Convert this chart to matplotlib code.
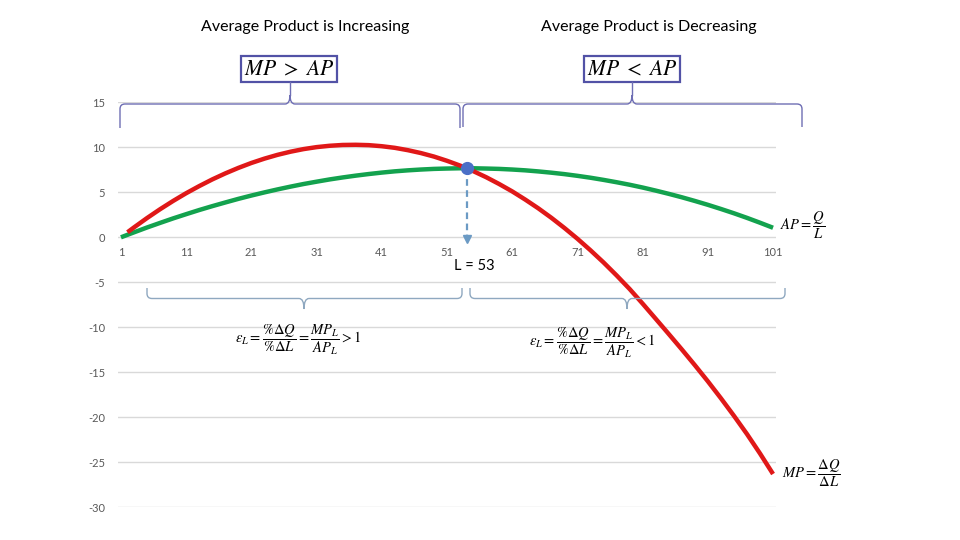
import matplotlib
matplotlib.use("Agg")
import matplotlib.pyplot as plt
from matplotlib.path import Path
from matplotlib.patches import PathPatch, Rectangle

plt.rcParams['mathtext.fontset'] = 'stix'

# ---------------- data ----------------
# category index (axis labels 1..101 correspond to L = 0..100)
ap_cat = list(range(1, 102, 2))
ap_val = [0.00, 0.55, 1.09, 1.60, 2.10, 2.57, 3.03, 3.46, 3.87, 4.27, 4.64, 4.99, 5.32, 5.63,
          5.92, 6.18, 6.43, 6.65, 6.85, 7.03, 7.19, 7.33, 7.44, 7.53, 7.60, 7.64, 7.67, 7.67,
          7.64, 7.60, 7.53, 7.44, 7.32, 7.18, 7.02, 6.83, 6.62, 6.38, 6.12, 5.84, 5.53, 5.19,
          4.83, 4.45, 4.04, 3.61, 3.15, 2.67, 2.16, 1.62, 1.06]
mp_cat = [2] + list(range(3, 102, 2))
mp_val = [0.56, 1.10, 2.14, 3.12, 4.04, 4.90, 5.69, 6.43, 7.10, 7.71, 8.26, 8.74, 9.16, 9.51,
          9.80, 10.02, 10.17, 10.26, 10.28, 10.24, 10.12, 9.94, 9.68, 9.36, 8.97, 8.50, 7.97,
          7.36, 6.68, 5.92, 5.10, 4.19, 3.22, 2.17, 1.04, -0.16, -1.44, -2.79, -4.23, -5.74,
          -7.37, -9.05, -10.74, -12.45, -14.20, -16.00, -17.88, -19.83, -21.86, -24.02, -26.30]
cross_cat = 54          # L = 53
cross_val = 7.67
x_ticks = [1, 11, 21, 31, 41, 51, 61, 71, 81, 91, 101]
y_ticks = [15, 10, 5, 0, -5, -10, -15, -20, -25, -30]

W, H = 960, 540
fig = plt.figure(figsize=(9.6, 5.4), dpi=100)
ax = fig.add_axes([117.7 / W, 1 - 507.3 / H, 658.6 / W, 405 / H])
ax.set_xlim(0.5, 101.5)
ax.set_ylim(-30, 15)

grid_c = '#D9D9D9'
lab_c = '#595959'
for v in y_ticks:
    ax.axhline(v, color=grid_c, lw=1.0, zorder=0)

ax.plot(ap_cat, ap_val, color='#13A24E', lw=3.2, solid_capstyle='butt', solid_joinstyle='round', zorder=3)
ax.plot(mp_cat, mp_val, color='#E01818', lw=3.2, solid_capstyle='butt', solid_joinstyle='round', zorder=4)

# dashed drop line with arrow head
ax.plot([cross_cat, cross_cat], [cross_val, 0.2], ls=(0, (3, 2)), color='#6B9AC4', lw=1.6, zorder=5)
ax.plot([cross_cat], [-0.15], marker='v', color='#6B9AC4', ms=6, zorder=5)
ax.plot([cross_cat], [cross_val], marker='o', color='#4A6FC7', ms=8.5, zorder=6)
ax.text(55.2, -3.2, 'L = 53', ha='center', va='center', fontsize=10.5, family='Lato', color='black')

for s in ax.spines.values():
    s.set_visible(False)
ax.spines['bottom'].set_position(('data', 0))
ax.set_xticks(x_ticks)
ax.set_xticklabels([str(t) for t in x_ticks])
ax.set_yticks(y_ticks)
ax.set_yticklabels([str(t) for t in y_ticks])
ax.tick_params(axis='both', length=0, labelsize=8, labelcolor=lab_c)
ax.tick_params(axis='x', pad=7)
ax.tick_params(axis='y', pad=9)
for t in ax.get_xticklabels() + ax.get_yticklabels():
    t.set_family('Lato')


def fp(x, y):
    return (x / W, 1 - y / H)


def brace(x0, x1, y, yend, xt, ytip, color, r=5, rt=5):
    s = 1 if yend > y else -1
    verts = [fp(x0, yend), fp(x0, y + s * r), fp(x0, y), fp(x0 + r, y),
             fp(xt - rt, y), fp(xt, y), fp(xt, ytip), fp(xt, y), fp(xt + rt, y),
             fp(x1 - r, y), fp(x1, y), fp(x1, y + s * r), fp(x1, yend)]
    codes = [Path.MOVETO, Path.LINETO, Path.CURVE3, Path.CURVE3,
             Path.LINETO, Path.CURVE3, Path.CURVE3, Path.CURVE3, Path.CURVE3,
             Path.LINETO, Path.CURVE3, Path.CURVE3, Path.LINETO]
    fig.add_artist(PathPatch(Path(verts, codes), fill=False, edgecolor=color, lw=1.0,
                             transform=fig.transFigure))


top_c = '#6E6EB4'
brace(120, 460, 104, 128, 290, 95, top_c)
brace(463, 802, 104, 127, 632, 95, top_c)
for xt in (290, 632):
    fig.add_artist(plt.Line2D([xt / W, xt / W], [1 - 95 / H, 1 - 82 / H], color=top_c, lw=1.0,
                              transform=fig.transFigure))

bot_c = '#8FA8C0'
brace(147, 462, 298.5, 288, 304, 309, bot_c)
brace(470, 785, 298.5, 288, 627, 309, bot_c)

# boxes
box_c = '#5252A6'
for x0 in (241, 584):
    fig.add_artist(Rectangle(fp(x0, 82), 96 / W, 26 / H, fill=False, edgecolor=box_c, lw=1.6,
                             transform=fig.transFigure))
fig.text(*fp(289, 69), r'$MP\ >\ AP$', ha='center', va='center', fontsize=15.5)
fig.text(*fp(632, 69), r'$MP\ <\ AP$', ha='center', va='center', fontsize=15.5)

# headers
fig.text(*fp(305, 27), 'Average Product is Increasing', ha='center', va='center',
         fontsize=11.5, family='Lato', color='black')
fig.text(*fp(649, 27), 'Average Product is Decreasing', ha='center', va='center',
         fontsize=11.5, family='Lato', color='black')

# formulas
fs = 10.5
fig.text(*fp(298, 340), r'$\varepsilon_L = \dfrac{\%\Delta Q}{\%\Delta L} = \dfrac{MP_L}{AP_L} > 1$',
         ha='center', va='center', fontsize=fs)
fig.text(*fp(592, 343), r'$\varepsilon_L = \dfrac{\%\Delta Q}{\%\Delta L} = \dfrac{MP_L}{AP_L} < 1$',
         ha='center', va='center', fontsize=fs)
fig.text(*fp(803, 225), r'$AP = \dfrac{Q}{L}$', ha='center', va='center', fontsize=fs)
fig.text(*fp(811, 473), r'$MP = \dfrac{\Delta Q}{\Delta L}$', ha='center', va='center', fontsize=fs)

fig.savefig('out.png', dpi=100, facecolor='white')
